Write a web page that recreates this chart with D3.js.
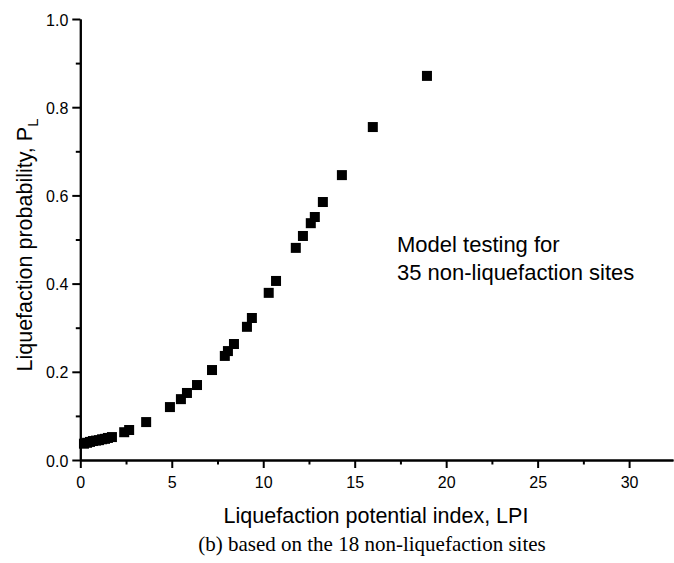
<!DOCTYPE html>
<html>
<head>
<meta charset="utf-8">
<script src="https://cdn.jsdelivr.net/npm/d3@7"></script>
<style>
  body { margin: 0; background: #fff; }
  svg text { font-family: Arial, "Liberation Sans", sans-serif; fill: #000; }
</style>
</head>
<body>
<div id="chart"></div>
<script>
// data
var lpi = [0.2, 0.37, 0.53, 0.69, 0.86, 1.02, 1.19, 1.35, 1.51, 1.73,
           2.4, 2.67, 3.6,
           4.9, 5.5, 5.83, 6.38, 7.2,
           7.9, 8.07, 8.4, 9.11, 9.38,
           10.3, 10.7, 11.78, 12.17, 12.6, 12.82, 13.26,
           14.3, 15.99, 18.95];
var prob = [0.037, 0.039, 0.041, 0.043, 0.044, 0.045, 0.047, 0.048, 0.05, 0.052,
            0.063, 0.068, 0.086,
            0.120, 0.138, 0.152, 0.170, 0.204,
            0.236, 0.247, 0.263, 0.302, 0.322,
            0.379, 0.406, 0.481, 0.508, 0.537, 0.551, 0.585,
            0.646, 0.755, 0.871];
var xTicks = [0, 5, 10, 15, 20, 25, 30];
var xMinor = [2.5, 7.5, 12.5, 17.5, 22.5, 27.5];
var yTicks = [0.0, 0.2, 0.4, 0.6, 0.8, 1.0];
var yMinor = [0.1, 0.3, 0.5, 0.7, 0.9];

var W = 674, H = 563;
var svg = d3.select("#chart").append("svg").attr("width", W).attr("height", H);

var x = d3.scaleLinear().domain([0, 32.4]).range([80.3, 673]);
var y = d3.scaleLinear().domain([0, 1]).range([460, 19]);

// x axis
var gx = svg.append("g").attr("transform", "translate(0,460)")
  .call(d3.axisBottom(x).tickValues(xTicks).tickSize(8).tickSizeOuter(0).tickPadding(5));
svg.append("g").attr("transform", "translate(0,460)")
  .call(d3.axisBottom(x).tickValues(xMinor).tickSize(4.5).tickSizeOuter(0).tickFormat(""));

// y axis
var gy = svg.append("g").attr("transform", "translate(80.3,0)")
  .call(d3.axisLeft(y).tickValues(yTicks).tickSize(8).tickSizeOuter(0).tickPadding(5)
    .tickFormat(d3.format(".1f")));
svg.append("g").attr("transform", "translate(80.3,0)")
  .call(d3.axisLeft(y).tickValues(yMinor).tickSize(4.5).tickSizeOuter(0).tickFormat(""));

svg.selectAll(".domain, .tick line").attr("stroke", "#000").attr("stroke-width", 2);
svg.selectAll(".tick text").attr("font-size", 16).style("font-family", "Arial, 'Liberation Sans', sans-serif");
gx.selectAll(".tick text").attr("dy", null).attr("y", 28);
gy.selectAll(".tick text").attr("dy", null).attr("x", -12).attr("y", 6);

// points
svg.selectAll("rect.pt").data(lpi).enter().append("rect")
  .attr("class", "pt")
  .attr("x", d => x(d) - 5).attr("y", (d, i) => y(prob[i]) - 5)
  .attr("width", 10).attr("height", 10).attr("fill", "#000");

// axis titles
svg.append("text").attr("x", 376).attr("y", 523).attr("text-anchor", "middle")
  .attr("font-size", 21.5).text("Liquefaction potential index, LPI");

var yl = svg.append("text").attr("transform", "translate(32,245) rotate(-90)")
  .attr("text-anchor", "middle").attr("font-size", 21.5);
yl.append("tspan").text("Liquefaction probability, P");
yl.append("tspan").attr("font-size", 15).attr("dy", 6).text("L");

// annotation
svg.append("text").attr("x", 397).attr("y", 252).attr("font-size", 22).text("Model testing for");
svg.append("text").attr("x", 397).attr("y", 280).attr("font-size", 22).text("35 non-liquefaction sites");

// caption
svg.append("text").attr("x", 372).attr("y", 551).attr("text-anchor", "middle")
  .attr("font-size", 21).style("font-family", "'Times New Roman', 'Liberation Serif', serif")
  .text("(b) based on the 18 non-liquefaction sites");
</script>
</body>
</html>
